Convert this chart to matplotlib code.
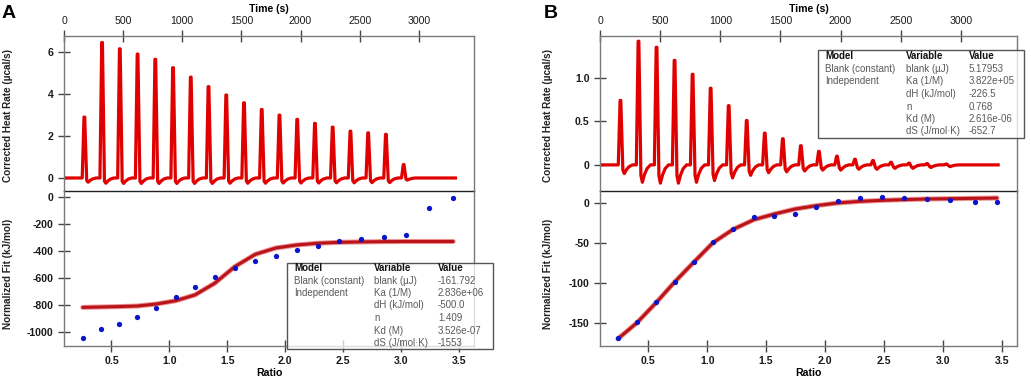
#!/usr/bin/env python

import numpy as np
import matplotlib
matplotlib.use('Agg')
import matplotlib.pyplot as plt
from matplotlib.patches import Rectangle

plt.rcParams['font.family'] = ['Liberation Sans', 'DejaVu Sans']

#----------------------------------------------------------------------
# Panel A

inj_time_a = [172, 322, 472, 622, 772, 922, 1072, 1222, 1372, 1522,
	1672, 1822, 1972, 2122, 2272, 2422, 2572, 2722, 2872]
peak_a = [2.9, 6.45, 6.15, 5.9, 5.65, 5.25, 4.8, 4.35, 3.95, 3.58,
	3.26, 2.99, 2.79, 2.60, 2.42, 2.23, 2.15, 2.08, 0.64]
dip_a = [-0.20, -0.25, -0.26, -0.26, -0.26, -0.26, -0.26, -0.26, -0.25, -0.25,
	-0.25, -0.24, -0.24, -0.24, -0.23, -0.23, -0.22, -0.22, -0.10]

ratio_a = [0.252, 0.409, 0.565, 0.722, 0.887, 1.053, 1.22, 1.39, 1.565, 1.742,
	1.919, 2.098, 2.28, 2.468, 2.657, 2.85, 3.04, 3.24, 3.45]
heat_a = [-1048, -977, -940, -892, -821, -739, -667, -590, -528, -474,
	-436, -394, -362, -330, -310, -300, -285, -80, -7]
fit_a = [-818, -815, -812, -808, -793, -769, -726, -640, -516, -425,
	-378, -356, -343, -336, -333, -331, -330, -330, -330]

table_a = [['Blank (constant)', 'blank (\u00b5J)', '-161.792'],
	['Independent', 'Ka (1/M)', '2.836e+06'],
	['', 'dH (kJ/mol)', '-500.0'],
	['', 'n', '1.409'],
	['', 'Kd (M)', '3.526e-07'],
	['', 'dS (J/mol\u00b7K)', '-1553']]

#----------------------------------------------------------------------
# Panel B

inj_time_b = [170, 320, 470, 620, 770, 920, 1070, 1220, 1370, 1520,
	1670, 1820, 1970, 2120, 2270, 2420, 2570, 2720, 2880]
peak_b = [0.74, 1.42, 1.35, 1.20, 1.04, 0.88, 0.68, 0.51, 0.365, 0.30,
	0.22, 0.155, 0.10, 0.065, 0.05, 0.03, 0.02, 0.015, 0.01]
dip_b = [-0.10, -0.20, -0.21, -0.21, -0.20, -0.18, -0.15, -0.12, -0.09, -0.08,
	-0.07, -0.06, -0.06, -0.05, -0.05, -0.04, -0.04, -0.03, -0.02]

ratio_b = [0.242, 0.403, 0.565, 0.723, 0.887, 1.047, 1.22, 1.395, 1.57, 1.748,
	1.923, 2.107, 2.293, 2.483, 2.672, 2.864, 3.06, 3.27, 3.46]
heat_b = [-169.6, -149.5, -124, -98.9, -74.2, -48.6, -32.3, -17.6, -16, -13.8,
	-5.5, 2.5, 6.3, 7.5, 6.7, 5.0, 3.3, 0.8, 0.8]
fit_b = [-170, -150, -125, -99, -74, -50, -33, -21, -13.8, -7.5,
	-3.4, 0, 2, 3.3, 4.2, 5, 5.4, 5.8, 6.2]

table_b = [['Blank (constant)', 'blank (\u00b5J)', '5.17953'],
	['Independent', 'Ka (1/M)', '3.822e+05'],
	['', 'dH (kJ/mol)', '-226.5'],
	['', 'n', '0.768'],
	['', 'Kd (M)', '2.616e-06'],
	['', 'dS (J/mol\u00b7K)', '-652.7']]

run_end = 3310

#----------------------------------------------------------------------

W, H = 1031, 383
SPINE = '#7a7a7a'
TICKS = dict(direction='inout', length=8, width=1, color='#444444',
	labelsize=7.6, labelcolor='#1a1a1a')

# shape of one injection peak (seconds after injection, fraction of peak/dip)
shape_dt = [-18, -3, 3, 20, 32, 50, 72, 100]


def box(l, t, r, b):
	return [l / W, 1 - b / H, (r - l) / W, (b - t) / H]


def thermogram(times, peaks, dips):
	t = [0]
	y = [0]
	for ti, h, d in zip(times, peaks, dips):
		vals = [0, h, h, d * 0.6, d, d * 0.55, d * 0.2, 0]
		for dt, v in zip(shape_dt, vals):
			t.append(ti + dt)
			y.append(v)
	t.append(run_end)
	y.append(0)
	return t, y


def style(ax, top):
	for s in ax.spines.values():
		s.set_color(SPINE)
		s.set_linewidth(1)
	ax.tick_params(**TICKS)
	for lab in ax.get_xticklabels() + ax.get_yticklabels():
		lab.set_fontweight('bold')
	if top:
		ax.spines['bottom'].set_color('#222222')
		ax.spines['bottom'].set_zorder(5)
		ax.xaxis.tick_top()
		ax.xaxis.set_label_position('top')
	else:
		ax.spines['top'].set_visible(False)
		ax.patch.set_alpha(0)


def draw_table(fig, rect, cols, rows_y, rows):
	l, t, r, b = rect
	fig.patches.append(Rectangle((l / W, 1 - b / H), (r - l) / W, (b - t) / H,
		transform=fig.transFigure, facecolor=(1, 1, 1, 0.75),
		edgecolor='#555555', linewidth=1, zorder=10))
	for x, txt in zip(cols, ['Model', 'Variable', 'Value']):
		fig.text(x / W, 1 - rows_y[0] / H, txt, fontsize=7, fontweight='bold',
			color='#111111', va='center', ha='left', zorder=11)
	for yy, row in zip(rows_y[1:], rows):
		for x, txt in zip(cols, row):
			fig.text(x / W, 1 - yy / H, txt, fontsize=7, color='#5a5a5a',
				va='center', ha='left', zorder=11)


def panel(fig, x0, x1, times, peaks, dips, ylim_top, yticks_top, ratio, heat,
	fit, ylim_bot, yticks_bot, letter, letter_x, ylab_x):

	ax_t = fig.add_axes(box(x0, 36, x1, 191))
	t, y = thermogram(times, peaks, dips)
	ax_t.plot(t, y, color='#e00000', linewidth=2.3, solid_joinstyle='round')
	ax_t.set_xlim(0, 3467)
	ax_t.set_ylim(*ylim_top)
	ax_t.set_xticks([0, 500, 1000, 1500, 2000, 2500, 3000])
	ax_t.set_yticks(yticks_top)
	style(ax_t, True)

	ax_b = fig.add_axes(box(x0, 191, x1, 346))
	ax_b.plot(ratio, fit, color='#ee9090', linewidth=3.6, solid_capstyle='round')
	ax_b.plot(ratio, fit, color='#b8141a', linewidth=2.2, solid_capstyle='round')
	ax_b.plot(ratio, heat, 'o', color='#0a14c8', markersize=3.8, markeredgewidth=0)
	ax_b.set_xlim(0.09, 3.63)
	ax_b.set_ylim(*ylim_bot)
	ax_b.set_xticks([0.5, 1.0, 1.5, 2.0, 2.5, 3.0, 3.5])
	ax_b.set_yticks(yticks_bot)
	style(ax_b, False)

	xc = (x0 + x1) / 2
	fig.text(xc / W, 1 - 9 / H, 'Time (s)', fontsize=7.6, fontweight='bold',
		ha='center', va='center')
	fig.text(xc / W, 1 - 373 / H, 'Ratio', fontsize=7.6, fontweight='bold',
		ha='center', va='center')
	fig.text(ylab_x / W, 1 - 115 / H, 'Corrected Heat Rate (\u00b5cal/s)',
		fontsize=7.2, fontweight='bold', rotation=90, ha='center', va='center',
		color='#222222')
	fig.text(ylab_x / W, 1 - 274 / H, 'Normalized Fit (kJ/mol)',
		fontsize=7.2, fontweight='bold', rotation=90, ha='center', va='center',
		color='#222222')
	fig.text(letter_x / W, 1 - 13 / H, letter, fontsize=14, fontweight='bold',
		ha='left', va='center')
	return ax_t, ax_b


def main():

	fig = plt.figure(figsize=(W / 100, H / 100), dpi=100)

	panel(fig, 64, 474, inj_time_a, peak_a, dip_a, (-0.62, 6.76), [0, 2, 4, 6],
		ratio_a, heat_a, fit_a, (-1104, 44), [0, -200, -400, -600, -800, -1000],
		'A', 2, 8)
	panel(fig, 600, 1017, inj_time_b, peak_b, dip_b, (-0.30, 1.48), [0, 0.5, 1.0],
		ratio_b, heat_b, fit_b, (-179, 15), [0, -50, -100, -150],
		'B', 544, 548)

	fig.axes[1].set_yticklabels(['0', '-200', '-400', '-600', '-800', '-1000'], fontweight='bold')
	fig.axes[2].set_yticklabels(['0', '0.5', '1.0'], fontweight='bold')
	fig.axes[3].set_yticklabels(['0', '-50', '-100', '-150'], fontweight='bold')

	draw_table(fig, (287, 263, 493, 349), [294, 374, 438],
		[268, 280.5, 293, 305.5, 318, 330.5, 343], table_a)
	draw_table(fig, (818, 50, 1024, 138), [825, 906, 969],
		[56, 69, 81.5, 94, 106.5, 119, 131.5], table_b)

	fig.savefig('out.png', dpi=100)

#----------------------------------------------------------------------

if __name__ == '__main__':
	main()
